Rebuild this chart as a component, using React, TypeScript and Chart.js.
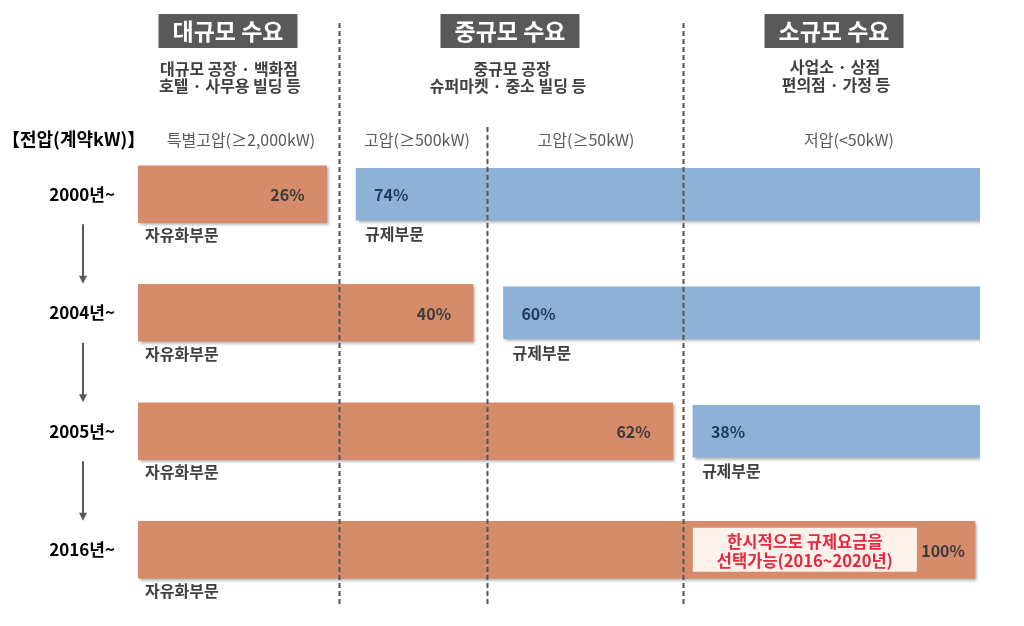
import React, { useEffect, useRef } from 'react';
import { Chart, registerables } from 'chart.js';

Chart.register(...registerables);

// ---- data ----
const years = ['2000년~', '2004년~', '2005년~', '2016년~'];
const liberalizedShare = [26, 40, 62, 100];
const regulatedShare = [74, 60, 38, 0];
// bar extents on the drawing scale (0 = left edge of the bar area, 100 = right edge)
const liberalizedEnd = [22.4, 39.8, 63.5, 99.4];
const regulatedStart = [25.9, 43.4, 65.9, null];
const regulatedEnd = [100, 100, 100, null];
// voltage class boundaries on the same scale
const voltageBoundaries = [23.9, 41.45, 64.7];
const demandGroups = ['대규모 수요', '중규모 수요', '소규모 수요'];
const demandExamples = [
  ['대규모 공장 · 백화점', '호텔 · 사무용 빌딩 등'],
  ['중규모 공장', '슈퍼마켓 · 중소 빌딩 등'],
  ['사업소 · 상점', '편의점 · 가정 등'],
];
const voltageClasses = ['특별고압(≥2,000kW)', '고압(≥500kW)', '고압(≥50kW)', '저압(<50kW)'];
const voltageTitle = '【전압(계약kW)】';
const liberalizedLabel = '자유화부문';
const regulatedLabel = '규제부문';
const noteLines = ['한시적으로 규제요금을', '선택가능(2016~2020년)'];

const FONT = "'Noto Sans CJK KR', 'Noto Sans', sans-serif";
const ORANGE = '#D68B6A';
const BLUE = '#8EB2D7';

const shadowPlugin = {
  id: 'barShadow',
  beforeDatasetDraw(chart: any) {
    const ctx = chart.ctx;
    ctx.save();
    ctx.shadowColor = 'rgba(0,0,0,0.35)';
    ctx.shadowOffsetX = 2;
    ctx.shadowOffsetY = 2;
    ctx.shadowBlur = 3;
  },
  afterDatasetDraw(chart: any) {
    chart.ctx.restore();
  },
};

const annotationPlugin = {
  id: 'annotations',
  afterDatasetsDraw(chart: any) {
    const ctx: CanvasRenderingContext2D = chart.ctx;
    const xs = chart.scales.x;
    const ys = chart.scales.y;
    const px = (v: number) => xs.getPixelForValue(v);
    const rowY = (i: number) => ys.getPixelForValue(i);
    ctx.save();

    // dashed voltage boundaries
    ctx.strokeStyle = '#555555';
    ctx.lineWidth = 2;
    ctx.setLineDash([5, 3]);
    const tops = [23, 127, 23];
    voltageBoundaries.forEach((b, k) => {
      const x = Math.round(px(b)) + 0.5;
      ctx.beginPath();
      ctx.moveTo(x, tops[k]);
      ctx.lineTo(x, 607);
      ctx.stroke();
    });
    ctx.setLineDash([]);

    // header boxes
    const headerCenters = [228, 510, 834];
    demandGroups.forEach((g, k) => {
      const cx = headerCenters[k];
      ctx.fillStyle = '#595959';
      ctx.fillRect(cx - 69.5, 14, 139, 34);
      ctx.fillStyle = '#ffffff';
      ctx.font = `bold 23px ${FONT}`;
      ctx.textAlign = 'center';
      ctx.textBaseline = 'middle';
      ctx.fillText(g, cx, 31);
      ctx.fillStyle = '#404040';
      ctx.font = `bold 16px ${FONT}`;
      const sub = demandExamples[k];
      const subY = k === 2 ? [67, 85] : [69, 86];
      ctx.fillText(sub[0], cx + (k === 1 ? 2 : 1), subY[0]);
      ctx.fillText(sub[1], cx + (k === 1 ? -2 : 2), subY[1]);
    });

    // voltage title & classes
    ctx.fillStyle = '#000000';
    ctx.font = `bold 18px ${FONT}`;
    ctx.textAlign = 'left';
    ctx.fillText(voltageTitle, 2, 139);
    const classCenters = [241, 417, 586, 849];
    ctx.fillStyle = '#595959';
    ctx.font = `16px ${FONT}`;
    ctx.textAlign = 'center';
    voltageClasses.forEach((c, k) => ctx.fillText(c, classCenters[k], 140));

    // arrows between rows
    ctx.strokeStyle = '#595959';
    ctx.fillStyle = '#595959';
    ctx.lineWidth = 2;
    for (let i = 0; i < years.length - 1; i++) {
      const x = 83;
      const y0 = rowY(i) + 30;
      const y1 = rowY(i + 1) - 29;
      ctx.beginPath();
      ctx.moveTo(x, y0);
      ctx.lineTo(x, y1 - 6);
      ctx.stroke();
      ctx.beginPath();
      ctx.moveTo(x - 4, y1 - 8);
      ctx.lineTo(x + 4, y1 - 8);
      ctx.lineTo(x, y1);
      ctx.closePath();
      ctx.fill();
    }

    // bar labels
    years.forEach((_, i) => {
      const cy = rowY(i);
      const full = regulatedStart[i] == null;
      // liberalized share
      ctx.font = `bold 16px ${FONT}`;
      ctx.textBaseline = 'middle';
      ctx.textAlign = 'right';
      ctx.fillStyle = '#3b3b3b';
      ctx.fillText(`${liberalizedShare[i]}%`, px(liberalizedEnd[i]) - (full ? 10 : 22), cy + 1);
      // sector label under bar
      ctx.font = `bold 16px ${FONT}`;
      ctx.textAlign = 'left';
      ctx.fillStyle = '#404040';
      ctx.fillText(liberalizedLabel, px(0) + 7, cy + 41);
      if (!full) {
        const s = px(regulatedStart[i] as number);
        ctx.font = `bold 16px ${FONT}`;
        ctx.fillStyle = '#1F3A5A';
        ctx.fillText(`${regulatedShare[i]}%`, s + 18, cy + 1);
        ctx.font = `bold 16px ${FONT}`;
        ctx.fillStyle = '#404040';
        ctx.fillText(regulatedLabel, s + 9, cy + 40);
      } else {
        // note box
        const bx0 = px(65.9);
        const bx1 = px(92.5);
        ctx.fillStyle = '#FCF2EB';
        ctx.fillRect(bx0, cy - 22, bx1 - bx0, 44);
        ctx.fillStyle = '#E6283F';
        ctx.font = `bold 16.5px ${FONT}`;
        ctx.textAlign = 'center';
        const cx = (bx0 + bx1) / 2;
        ctx.fillText(noteLines[0], cx, cy - 8);
        ctx.fillText(noteLines[1], cx, cy + 11);
      }
    });

    ctx.restore();
  },
};

export default function App() {
  const canvasRef = useRef<HTMLCanvasElement | null>(null);

  useEffect(() => {
    const canvas = canvasRef.current;
    if (!canvas) return;
    const chart = new Chart(canvas, {
      type: 'bar',
      data: {
        labels: years,
        datasets: [
          {
            label: liberalizedLabel,
            data: years.map((_, i) => [0, liberalizedEnd[i]]) as any,
            backgroundColor: ORANGE,
            barThickness: 57,
            grouped: false,
            borderWidth: 0,
          } as any,
          {
            label: regulatedLabel,
            data: years.map((_, i) =>
              regulatedStart[i] == null ? null : [regulatedStart[i], regulatedEnd[i]]
            ) as any,
            backgroundColor: BLUE,
            barThickness: 52,
            grouped: false,
            borderWidth: 0,
          } as any,
        ],
      },
      options: {
        indexAxis: 'y',
        responsive: false,
        animation: false,
        layout: { padding: { left: 0, right: 44, top: 135, bottom: 17 } },
        plugins: {
          legend: { display: false },
          tooltip: { enabled: false },
        },
        scales: {
          x: { type: 'linear', min: 0, max: 100, display: false },
          y: {
            type: 'category',
            grid: { display: false, drawTicks: false },
            border: { display: false },
            ticks: {
              padding: 23,
              color: '#000000',
              font: { family: FONT, size: 17, weight: 'bold' },
            },
            afterFit: (s: any) => {
              s.width = 138;
              s.paddingTop = 0;
              s.paddingBottom = 0;
            },
          },
        },
      } as any,
      plugins: [shadowPlugin, annotationPlugin],
    });
    return () => chart.destroy();
  }, []);

  return (
    <div style={{ position: 'absolute', left: 0, top: 0, width: 1024, height: 626, background: '#ffffff' }}>
      <canvas ref={canvasRef} width={1024} height={626} style={{ display: 'block' }} />
    </div>
  );
}
